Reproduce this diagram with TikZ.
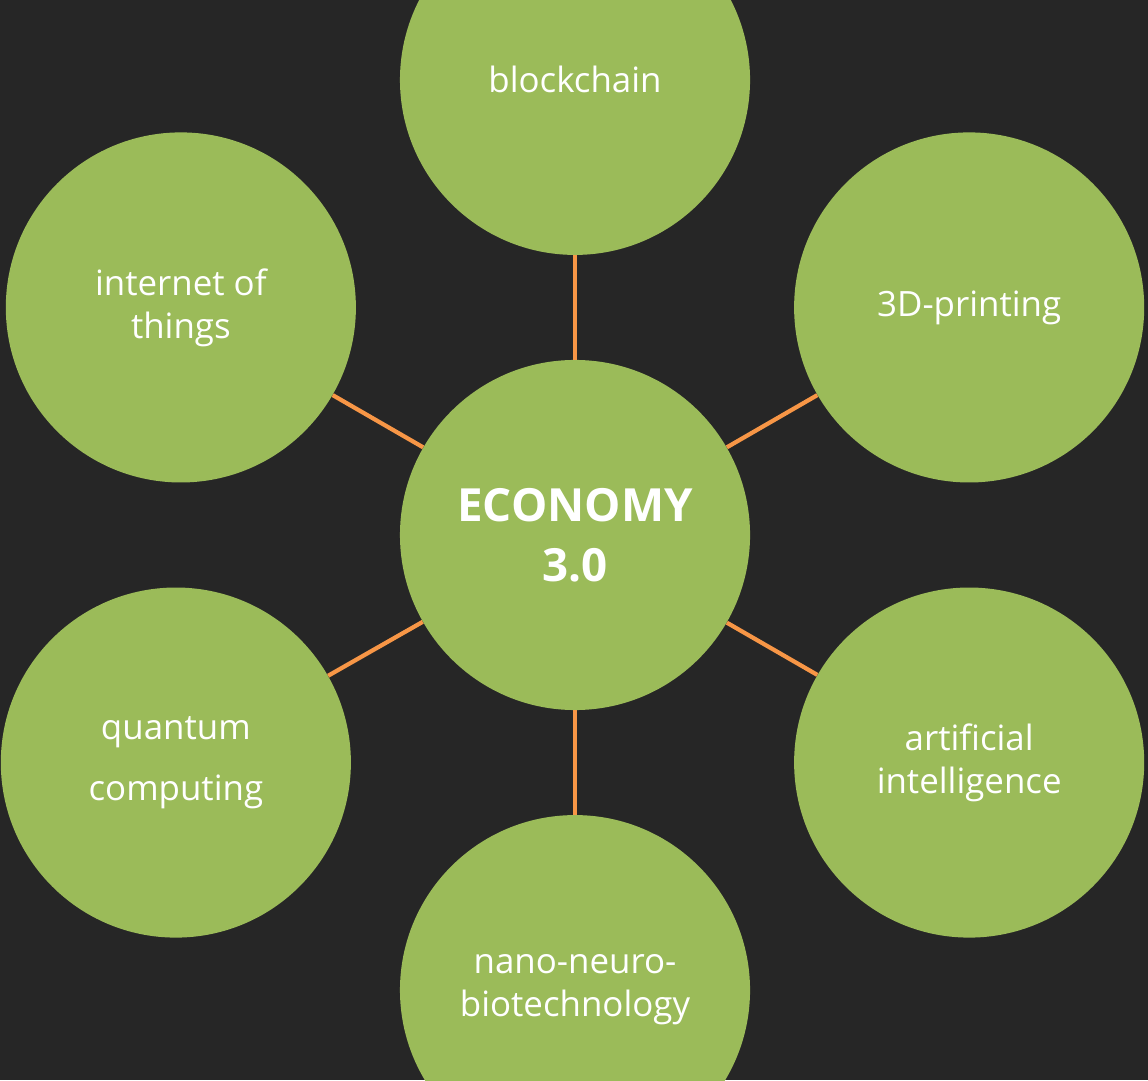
\documentclass[tikz,border=0pt]{standalone}
\usepackage{fontspec}
\setmainfont{Open Sans}
\definecolor{bgdark}{HTML}{262626}
\definecolor{leafgreen}{HTML}{9BBB59}
\definecolor{linkorange}{HTML}{F79646}
\begin{document}
\begin{tikzpicture}
  [
    x=0.025cm, y=0.025cm,
    level distance=11.375cm,
    every node/.style={circle, fill=leafgreen, text=white, minimum size=8.75cm,
      inner sep=0pt, align=center, font=\fontsize{24.8}{30.6}\selectfont},
    edge from parent/.style={draw=linkorange, line width=3pt}
  ]
  \fill[bgdark] (0,0) rectangle (1148,1080);
  \useasboundingbox (0,0) rectangle (1148,1080);
  \node[font=\fontsize{32.5}{43}\selectfont\bfseries] (economy) at (575,545) {ECONOMY\\3.0}
    child[grow=90] {node (blockchain) {blockchain}}
    child[grow=30] {node (printing) {3D-printing}}
    child[grow=-30] {node (ai) {artificial\\intelligence}}
    child[grow=-90] {node (nano) {nano-neuro-\\biotechnology}}
    child[grow=-150] {node[xshift=-0.125cm, font=\fontsize{24.8}{43.5}\selectfont] (quantum) {quantum\\computing}}
    child[grow=150] {node (iot) {internet of\\things}};
\end{tikzpicture}
\end{document}
